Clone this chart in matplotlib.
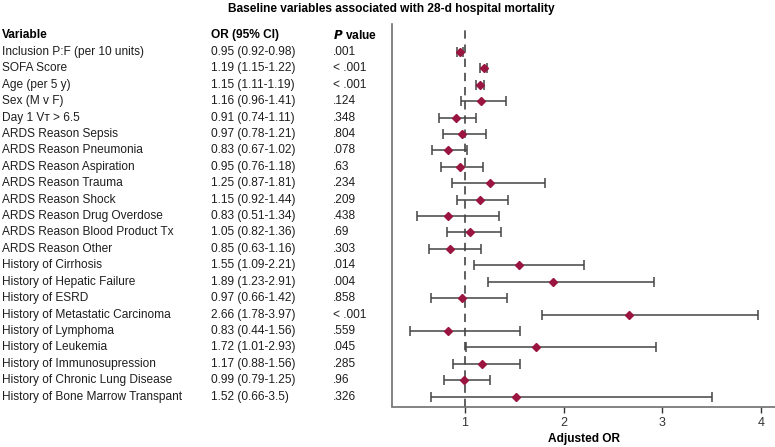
import matplotlib.pyplot as plt
import matplotlib.transforms as mtransforms

plt.rcParams['font.family'] = ['Liberation Sans', 'DejaVu Sans']

variables = ['Inclusion P:F (per 10 units)', 'SOFA Score', 'Age (per 5 y)', 'Sex (M v F)',
             'Day 1 V\u1d1b > 6.5', 'ARDS Reason Sepsis', 'ARDS Reason Pneumonia',
             'ARDS Reason Aspiration', 'ARDS Reason Trauma', 'ARDS Reason Shock',
             'ARDS Reason Drug Overdose', 'ARDS Reason Blood Product Tx', 'ARDS Reason Other',
             'History of Cirrhosis', 'History of Hepatic Failure', 'History of ESRD',
             'History of Metastatic Carcinoma', 'History of Lymphoma', 'History of Leukemia',
             'History of Immunosupression', 'History of Chronic Lung Disease',
             'History of Bone Marrow Transpant']
odds = [0.95, 1.19, 1.15, 1.16, 0.91, 0.97, 0.83, 0.95, 1.25, 1.15, 0.83, 1.05, 0.85,
        1.55, 1.89, 0.97, 2.66, 0.83, 1.72, 1.17, 0.99, 1.52]
lower = [0.92, 1.15, 1.11, 0.96, 0.74, 0.78, 0.67, 0.76, 0.87, 0.92, 0.51, 0.82, 0.63,
         1.09, 1.23, 0.66, 1.78, 0.44, 1.01, 0.88, 0.79, 0.66]
upper = [0.98, 1.22, 1.19, 1.41, 1.11, 1.21, 1.02, 1.18, 1.81, 1.44, 1.34, 1.36, 1.16,
         2.21, 2.91, 1.42, 3.97, 1.56, 2.93, 1.56, 1.25, 3.5]
or_labels = ['0.95 (0.92-0.98)', '1.19 (1.15-1.22)', '1.15 (1.11-1.19)', '1.16 (0.96-1.41)',
             '0.91 (0.74-1.11)', '0.97 (0.78-1.21)', '0.83 (0.67-1.02)', '0.95 (0.76-1.18)',
             '1.25 (0.87-1.81)', '1.15 (0.92-1.44)', '0.83 (0.51-1.34)', '1.05 (0.82-1.36)',
             '0.85 (0.63-1.16)', '1.55 (1.09-2.21)', '1.89 (1.23-2.91)', '0.97 (0.66-1.42)',
             '2.66 (1.78-3.97)', '0.83 (0.44-1.56)', '1.72 (1.01-2.93)', '1.17 (0.88-1.56)',
             '0.99 (0.79-1.25)', '1.52 (0.66-3.5)']
p_values = ['.001', '< .001', '< .001', '.124', '.348', '.804', '.078', '.63', '.234', '.209',
            '.438', '.69', '.303', '.014', '.004', '.858', '< .001', '.559', '.045', '.285',
            '.96', '.326']

W, H = 775, 447
fig = plt.figure(figsize=(W / 100, H / 100), dpi=100)
ax = fig.add_axes([392 / W, 1 - 406.5 / H, 383 / W, (406.5 - 24) / H])

rows = list(range(len(variables)))
xerr = [[o - l for o, l in zip(odds, lower)], [u - o for o, u in zip(odds, upper)]]
ax.errorbar(odds, rows, xerr=xerr, fmt='none', ecolor='#444444', elinewidth=1.1,
            capsize=3.7, capthick=1.1, zorder=2)
ax.plot(odds, rows, 'D', color='#9a1540', markersize=3.6, zorder=3)
ax.axvline(1, color='#444444', lw=1.2, dashes=(5, 3.5), ymax=0.995, zorder=1)

ax.set_xlim(0.26, 4.14)
ax.set_ylim(21.6, -1.7)
ax.set_yticks([])
ax.set_xticks([1, 2, 3, 4])
ax.tick_params(axis='x', labelsize=9, colors='#333333', length=4, width=1)
for s in ['top', 'right']:
    ax.spines[s].set_visible(False)
for s in ['left', 'bottom']:
    ax.spines[s].set_color('#6e6e6e')
    ax.spines[s].set_linewidth(1.2)
ax.set_xlabel('Adjusted OR', fontsize=8.6, fontweight='bold', labelpad=3)

tr = mtransforms.blended_transform_factory(fig.transFigure, ax.transData)
fs = 8.6
fig.text(2 / W, -1, 'Variable', transform=tr, fontsize=fs, fontweight='bold', va='center')
fig.text(211 / W, -1, 'OR (95% CI)', transform=tr, fontsize=fs, fontweight='bold', va='center')
fig.text(333 / W, -1, r'$\bfit{P}$ value', transform=tr, fontsize=fs, fontweight='bold', va='center')
for i in rows:
    fig.text(2 / W, i, variables[i], transform=tr, fontsize=fs, va='center', color='#1e1e1e')
    fig.text(211 / W, i, or_labels[i], transform=tr, fontsize=fs, va='center', color='#1e1e1e')
    fig.text(333 / W, i, p_values[i], transform=tr, fontsize=fs, va='center', color='#1e1e1e')

fig.text(391 / W, 1 - 9 / H, 'Baseline variables associated with 28-d hospital mortality',
         ha='center', va='center', fontsize=8.6, fontweight='bold')

fig.savefig('out.png', dpi=100)
